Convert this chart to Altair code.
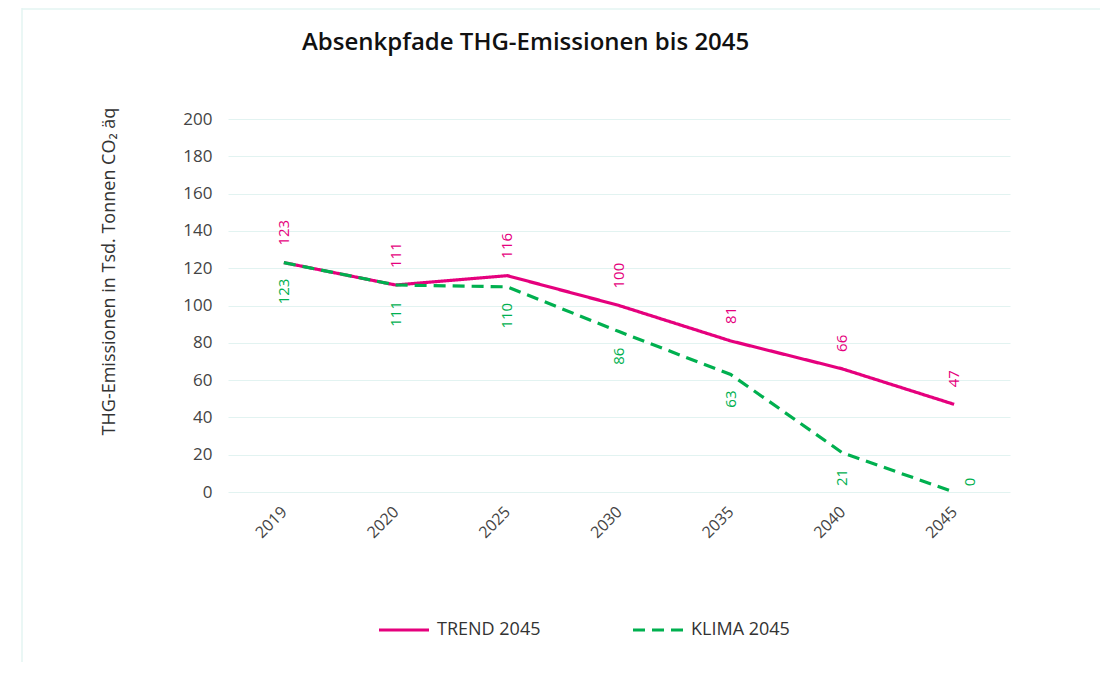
import altair as alt
import pandas as pd

years = ["2019", "2020", "2025", "2030", "2035", "2040", "2045"]
trend = [123, 111, 116, 100, 81, 66, 47]
klima = [123, 111, 110, 86, 63, 21, 0]
series_names = ["TREND 2045", "KLIMA 2045"]
colors = ["#e5007d", "#00b04f"]
y_ticks = [0, 20, 40, 60, 80, 100, 120, 140, 160, 180, 200]

rows = []
for i, yr in enumerate(years):
    rows.append({"year": yr, "value": trend[i], "series": series_names[0]})
    rows.append({"year": yr, "value": klima[i], "series": series_names[1]})
df = pd.DataFrame(rows)

FONT = "Open Sans"

x_enc = alt.X("year:O", sort=years, title=None,
              axis=alt.Axis(labelAngle=-45, labelAlign="right", labelBaseline="middle",
                            labelPadding=17, labelFontSize=16, labelColor="#444",
                            labelOverlap=False,
                            domain=False, ticks=False, grid=False))
y_enc = alt.Y("value:Q", scale=alt.Scale(domain=[0, 200], nice=False),
              title="THG-Emissionen in Tsd. Tonnen CO₂ äq",
              axis=alt.Axis(values=y_ticks, domain=False, ticks=False,
                            gridColor="#e2f3f1", gridWidth=1, labelOverlap=False,
                            labelFontSize=17, labelColor="#444", labelPadding=16,
                            titleFontSize=18, titleFontWeight="normal", titleColor="#333",
                            titleAngle=270, titleX=-119, titleY=152,
                            titleAlign="center", titleBaseline="middle"))

color_scale = alt.Scale(domain=series_names, range=colors)
dash_scale = alt.Scale(domain=series_names, range=[[1, 0], [12, 7]])

base = alt.Chart(df)

lines = base.mark_line(strokeWidth=3.2).encode(
    x=x_enc,
    y=y_enc,
    color=alt.Color("series:N", scale=color_scale, title=None,
                    legend=alt.Legend(orient="none", legendX=149, legendY=484,
                                      direction="horizontal", columns=2,
                                      columnPadding=85, symbolType="stroke",
                                      symbolSize=2500, symbolStrokeWidth=3.2,
                                      labelFontSize=18, labelColor="#333",
                                      labelOffset=6, padding=0)),
    strokeDash=alt.StrokeDash("series:N", scale=dash_scale, title=None, legend=None),
)

trend_labels = base.transform_filter(alt.datum.series == series_names[0]).mark_text(
    angle=270, align="left", baseline="middle", dx=17, fontSize=15, font=FONT,
    color=colors[0]
).encode(x=x_enc, y=y_enc, text="value:Q")

klima_labels = base.transform_filter(
    (alt.datum.series == series_names[1]) & (alt.datum.value > 0)
).mark_text(
    angle=270, align="right", baseline="middle", dx=-16, fontSize=15, font=FONT,
    color=colors[1]
).encode(x=x_enc, y=y_enc, text="value:Q")

zero_labels = base.transform_filter(
    (alt.datum.series == series_names[1]) & (alt.datum.value == 0)
).mark_text(
    angle=270, align="center", baseline="middle", dx=10, dy=16, fontSize=15, font=FONT,
    color=colors[1]
).encode(x=x_enc, y=y_enc, text="value:Q")

frame_df = pd.DataFrame({"a": [0]})
frame_left = alt.Chart(frame_df).mark_rule(color="#e3f4f2", strokeWidth=1.5).encode(
    x=alt.value(-206), y=alt.value(-111), y2=alt.value(700))
frame_top = alt.Chart(frame_df).mark_rule(color="#e3f4f2", strokeWidth=1.5).encode(
    x=alt.value(-206), x2=alt.value(1000), y=alt.value(-110))

chart = alt.layer(lines, trend_labels, klima_labels, zero_labels, frame_left, frame_top).properties(
    width=782, height=373,
    autosize=alt.AutoSizeParams(type="none"),
    padding={"left": 220, "top": 111, "right": 90, "bottom": 170},
    title=alt.TitleParams("Absenkpfade THG-Emissionen bis 2045", anchor="start",
                          frame="group", dx=74, dy=52, fontSize=24, font=FONT,
                          fontWeight=600, color="#111"),
).configure(font=FONT).configure_view(stroke=None)

chart.save("out.html", embed_options={"renderer": "svg", "actions": False})
